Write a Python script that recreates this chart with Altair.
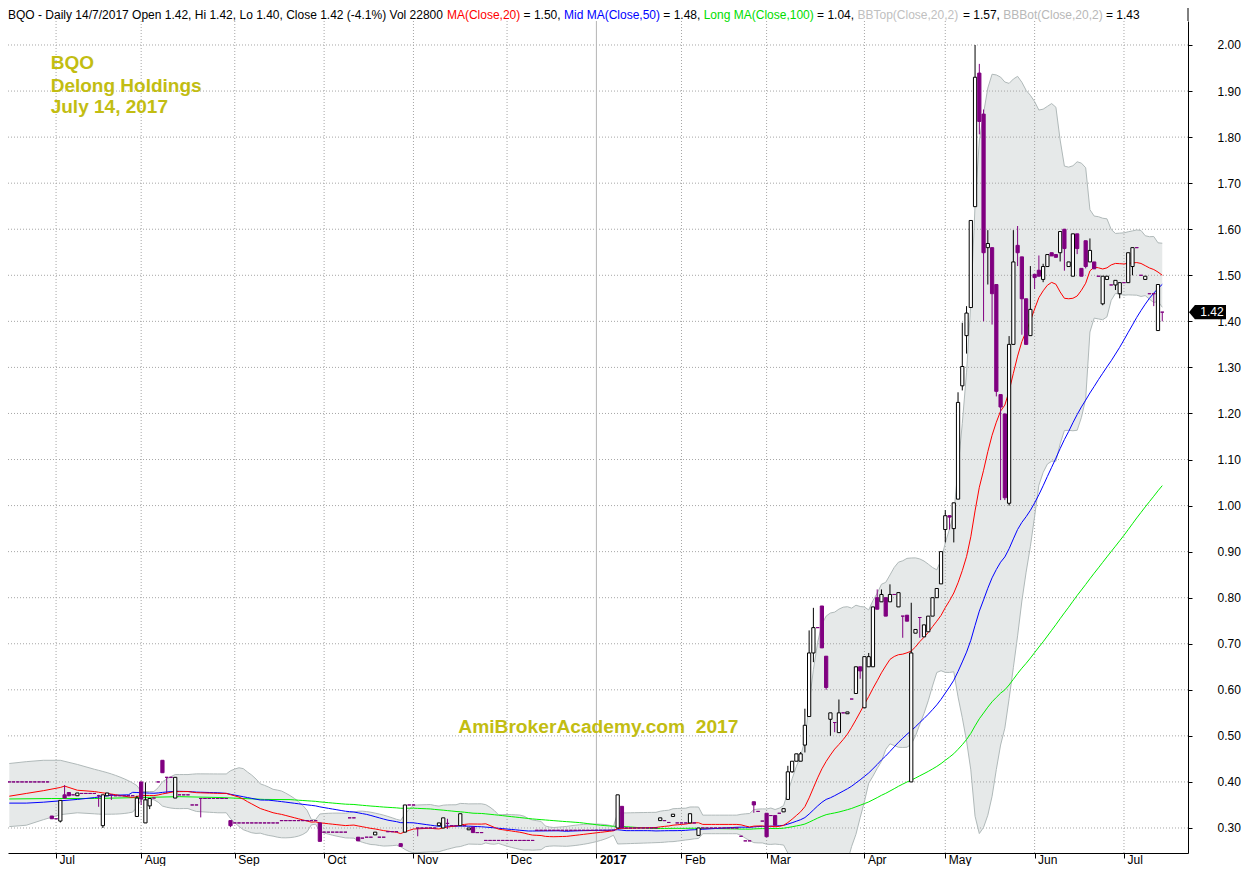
import altair as alt
import pandas as pd

FONT = "Liberation Sans"

# ---- daily candles, bar index 0..271 (mid-Jun 2016 .. 14 Jul 2017) ----
open_ = [
    0.400, 0.400, 0.400, 0.400, 0.400, 0.400, 0.400, 0.400, 0.400, 0.400,
    0.326, 0.320, 0.315, 0.372, 0.377, 0.372, 0.370, 0.375, 0.375, 0.375,
    0.375, 0.370, 0.305, 0.370, 0.372, 0.370, 0.370, 0.370, 0.370, 0.370,
    0.325, 0.400, 0.311, 0.348, 0.365, 0.400, 0.447, 0.410, 0.410, 0.365,
    0.372, 0.372, 0.372, 0.350, 0.350, 0.364, 0.364, 0.364, 0.364, 0.364,
    0.364, 0.364, 0.316, 0.311, 0.311, 0.311, 0.311, 0.311, 0.311, 0.311,
    0.311, 0.311, 0.311, 0.311, 0.316, 0.316, 0.316, 0.316, 0.316, 0.316,
    0.316, 0.316, 0.316, 0.311, 0.291, 0.291, 0.291, 0.291, 0.291, 0.291,
    0.322, 0.322, 0.280, 0.278, 0.280, 0.280, 0.285, 0.280, 0.280, 0.292,
    0.292, 0.292, 0.266, 0.291, 0.350, 0.350, 0.300, 0.300, 0.300, 0.300,
    0.300, 0.305, 0.300, 0.310, 0.305, 0.305, 0.305, 0.305, 0.296, 0.302,
    0.290, 0.290, 0.273, 0.273, 0.273, 0.273, 0.273, 0.273, 0.273, 0.273,
    0.273, 0.273, 0.273, 0.273, 0.295, 0.295, 0.295, 0.295, 0.295, 0.295,
    0.295, 0.295, 0.295, 0.295, 0.295, 0.295, 0.295, 0.295, 0.295, 0.295,
    0.295, 0.295, 0.295, 0.300, 0.347, 0.300, 0.300, 0.300, 0.300, 0.300,
    0.300, 0.300, 0.300, 0.316, 0.316, 0.312, 0.325, 0.311, 0.311, 0.311,
    0.311, 0.311, 0.284, 0.300, 0.300, 0.300, 0.300, 0.300, 0.300, 0.300,
    0.300, 0.300, 0.282, 0.272, 0.272, 0.357, 0.336, 0.315, 0.332, 0.327,
    0.327, 0.332, 0.335, 0.362, 0.422, 0.445, 0.445, 0.480, 0.542, 0.680,
    0.735, 0.782, 0.673, 0.536, 0.529, 0.507, 0.550, 0.548, 0.580, 0.592,
    0.650, 0.561, 0.650, 0.650, 0.800, 0.791, 0.800, 0.791, 0.807, 0.780,
    0.760, 0.762, 0.400, 0.723, 0.757, 0.715, 0.726, 0.760, 0.800, 0.830,
    0.948, 0.978, 0.950, 1.014, 1.260, 1.369, 1.430, 1.649, 1.939, 1.850,
    1.560, 1.560, 1.480, 1.241, 1.199, 1.005, 1.350, 1.565, 1.540, 1.449,
    1.369, 1.502, 1.511, 1.491, 1.519, 1.549, 1.545, 1.549, 1.600, 1.519,
    1.498, 1.590, 1.515, 1.575, 1.529, 1.529, 1.498, 1.438, 1.491, 1.479,
    1.479, 1.460, 1.484, 1.484, 1.519, 1.560, 1.500, 1.491, 1.460, 1.460,
    1.380, 1.420,
]
high = [
    0.400, 0.400, 0.400, 0.400, 0.400, 0.400, 0.400, 0.400, 0.400, 0.400,
    0.326, 0.320, 0.360, 0.393, 0.377, 0.372, 0.376, 0.375, 0.375, 0.375,
    0.375, 0.372, 0.372, 0.376, 0.372, 0.370, 0.370, 0.370, 0.370, 0.370,
    0.370, 0.400, 0.399, 0.364, 0.365, 0.400, 0.447, 0.410, 0.410, 0.410,
    0.372, 0.372, 0.372, 0.350, 0.350, 0.364, 0.364, 0.364, 0.364, 0.364,
    0.364, 0.364, 0.316, 0.311, 0.311, 0.311, 0.311, 0.311, 0.311, 0.311,
    0.311, 0.311, 0.311, 0.311, 0.316, 0.316, 0.316, 0.316, 0.316, 0.316,
    0.316, 0.316, 0.316, 0.311, 0.291, 0.291, 0.291, 0.291, 0.291, 0.291,
    0.322, 0.322, 0.280, 0.278, 0.280, 0.280, 0.291, 0.280, 0.280, 0.292,
    0.292, 0.292, 0.266, 0.350, 0.350, 0.350, 0.300, 0.300, 0.300, 0.300,
    0.300, 0.311, 0.322, 0.320, 0.305, 0.305, 0.331, 0.305, 0.300, 0.302,
    0.290, 0.290, 0.273, 0.273, 0.273, 0.273, 0.273, 0.273, 0.273, 0.273,
    0.273, 0.273, 0.273, 0.273, 0.295, 0.295, 0.295, 0.295, 0.295, 0.295,
    0.295, 0.295, 0.295, 0.295, 0.295, 0.295, 0.295, 0.295, 0.295, 0.295,
    0.295, 0.295, 0.295, 0.372, 0.347, 0.300, 0.300, 0.300, 0.300, 0.300,
    0.300, 0.300, 0.300, 0.322, 0.316, 0.312, 0.330, 0.311, 0.311, 0.311,
    0.331, 0.311, 0.300, 0.300, 0.300, 0.300, 0.300, 0.300, 0.300, 0.300,
    0.300, 0.300, 0.282, 0.272, 0.272, 0.357, 0.336, 0.315, 0.332, 0.327,
    0.327, 0.332, 0.342, 0.435, 0.445, 0.461, 0.465, 0.559, 0.729, 0.778,
    0.735, 0.782, 0.673, 0.550, 0.529, 0.579, 0.550, 0.552, 0.580, 0.650,
    0.650, 0.672, 0.680, 0.780, 0.818, 0.818, 0.800, 0.829, 0.807, 0.811,
    0.760, 0.762, 0.789, 0.731, 0.757, 0.741, 0.760, 0.800, 0.820, 0.900,
    0.990, 0.978, 1.006, 1.246, 1.397, 1.433, 1.619, 2.000, 1.959, 1.860,
    1.598, 1.560, 1.480, 1.241, 1.199, 1.368, 1.598, 1.607, 1.540, 1.449,
    1.520, 1.502, 1.543, 1.525, 1.545, 1.549, 1.545, 1.595, 1.600, 1.529,
    1.590, 1.590, 1.515, 1.575, 1.580, 1.529, 1.498, 1.498, 1.498, 1.479,
    1.489, 1.484, 1.484, 1.549, 1.560, 1.560, 1.500, 1.498, 1.460, 1.460,
    1.480, 1.420,
]
low = [
    0.400, 0.400, 0.400, 0.400, 0.400, 0.400, 0.400, 0.400, 0.400, 0.400,
    0.320, 0.320, 0.312, 0.365, 0.369, 0.372, 0.370, 0.375, 0.375, 0.375,
    0.375, 0.346, 0.300, 0.370, 0.361, 0.370, 0.370, 0.370, 0.370, 0.370,
    0.325, 0.350, 0.311, 0.341, 0.365, 0.400, 0.420, 0.375, 0.410, 0.365,
    0.372, 0.372, 0.372, 0.350, 0.350, 0.323, 0.364, 0.364, 0.364, 0.364,
    0.364, 0.364, 0.302, 0.311, 0.311, 0.311, 0.311, 0.311, 0.311, 0.311,
    0.311, 0.311, 0.311, 0.311, 0.316, 0.316, 0.316, 0.316, 0.316, 0.316,
    0.316, 0.316, 0.316, 0.271, 0.291, 0.291, 0.291, 0.291, 0.291, 0.291,
    0.322, 0.322, 0.272, 0.278, 0.280, 0.280, 0.285, 0.280, 0.280, 0.292,
    0.292, 0.292, 0.260, 0.291, 0.350, 0.350, 0.282, 0.300, 0.300, 0.300,
    0.300, 0.305, 0.300, 0.298, 0.305, 0.305, 0.305, 0.305, 0.296, 0.290,
    0.290, 0.290, 0.273, 0.273, 0.273, 0.273, 0.273, 0.273, 0.273, 0.273,
    0.273, 0.273, 0.273, 0.273, 0.295, 0.295, 0.295, 0.295, 0.295, 0.295,
    0.295, 0.295, 0.295, 0.295, 0.295, 0.295, 0.295, 0.295, 0.295, 0.295,
    0.295, 0.295, 0.295, 0.300, 0.300, 0.300, 0.300, 0.300, 0.300, 0.300,
    0.300, 0.300, 0.300, 0.316, 0.316, 0.312, 0.325, 0.311, 0.311, 0.311,
    0.311, 0.311, 0.284, 0.300, 0.300, 0.300, 0.300, 0.300, 0.300, 0.300,
    0.300, 0.300, 0.282, 0.272, 0.272, 0.333, 0.336, 0.315, 0.280, 0.327,
    0.306, 0.332, 0.335, 0.362, 0.420, 0.445, 0.445, 0.464, 0.542, 0.660,
    0.735, 0.691, 0.600, 0.500, 0.508, 0.507, 0.550, 0.548, 0.580, 0.592,
    0.624, 0.561, 0.650, 0.650, 0.775, 0.791, 0.760, 0.791, 0.807, 0.780,
    0.713, 0.749, 0.400, 0.723, 0.713, 0.715, 0.726, 0.760, 0.800, 0.830,
    0.920, 0.948, 0.920, 1.014, 1.250, 1.330, 1.430, 1.649, 1.806, 1.400,
    1.480, 1.393, 1.237, 1.012, 1.012, 1.000, 1.350, 1.520, 1.371, 1.350,
    1.369, 1.470, 1.498, 1.485, 1.519, 1.542, 1.539, 1.530, 1.510, 1.519,
    1.498, 1.546, 1.498, 1.515, 1.529, 1.514, 1.498, 1.435, 1.491, 1.479,
    1.468, 1.450, 1.484, 1.484, 1.500, 1.560, 1.500, 1.491, 1.460, 1.433,
    1.380, 1.400,
]
close = [
    0.400, 0.400, 0.400, 0.400, 0.400, 0.400, 0.400, 0.400, 0.400, 0.400,
    0.320, 0.320, 0.360, 0.365, 0.370, 0.372, 0.376, 0.375, 0.375, 0.375,
    0.375, 0.370, 0.372, 0.376, 0.372, 0.370, 0.370, 0.370, 0.370, 0.370,
    0.365, 0.363, 0.361, 0.364, 0.365, 0.400, 0.420, 0.410, 0.410, 0.410,
    0.372, 0.372, 0.372, 0.350, 0.350, 0.364, 0.364, 0.364, 0.364, 0.364,
    0.364, 0.364, 0.305, 0.311, 0.311, 0.311, 0.311, 0.311, 0.311, 0.311,
    0.311, 0.311, 0.311, 0.311, 0.316, 0.316, 0.316, 0.316, 0.316, 0.316,
    0.316, 0.316, 0.316, 0.271, 0.291, 0.291, 0.291, 0.291, 0.291, 0.291,
    0.322, 0.322, 0.272, 0.278, 0.280, 0.280, 0.291, 0.280, 0.280, 0.292,
    0.292, 0.292, 0.260, 0.350, 0.350, 0.350, 0.300, 0.300, 0.300, 0.300,
    0.300, 0.311, 0.322, 0.310, 0.305, 0.305, 0.331, 0.305, 0.300, 0.290,
    0.290, 0.290, 0.273, 0.273, 0.273, 0.273, 0.273, 0.273, 0.273, 0.273,
    0.273, 0.273, 0.273, 0.273, 0.295, 0.295, 0.295, 0.295, 0.295, 0.295,
    0.295, 0.295, 0.295, 0.295, 0.295, 0.295, 0.295, 0.295, 0.295, 0.295,
    0.295, 0.295, 0.295, 0.372, 0.300, 0.300, 0.300, 0.300, 0.300, 0.300,
    0.300, 0.300, 0.300, 0.322, 0.316, 0.312, 0.330, 0.311, 0.311, 0.311,
    0.331, 0.311, 0.300, 0.300, 0.300, 0.300, 0.300, 0.300, 0.300, 0.300,
    0.300, 0.300, 0.282, 0.272, 0.272, 0.350, 0.336, 0.315, 0.281, 0.327,
    0.306, 0.332, 0.342, 0.422, 0.445, 0.461, 0.461, 0.523, 0.680, 0.735,
    0.735, 0.691, 0.605, 0.550, 0.529, 0.550, 0.550, 0.552, 0.580, 0.650,
    0.641, 0.672, 0.672, 0.780, 0.775, 0.807, 0.760, 0.807, 0.807, 0.811,
    0.760, 0.749, 0.680, 0.731, 0.757, 0.741, 0.760, 0.800, 0.820, 0.900,
    0.978, 0.975, 1.006, 1.224, 1.302, 1.418, 1.619, 1.930, 1.834, 1.549,
    1.569, 1.460, 1.248, 1.214, 1.017, 1.350, 1.529, 1.549, 1.449, 1.350,
    1.426, 1.495, 1.498, 1.519, 1.545, 1.542, 1.539, 1.595, 1.558, 1.529,
    1.590, 1.558, 1.498, 1.519, 1.554, 1.514, 1.498, 1.498, 1.498, 1.479,
    1.489, 1.484, 1.484, 1.549, 1.560, 1.560, 1.500, 1.498, 1.460, 1.460,
    1.480, 1.420,
]

# indicator values for the leftmost bars, where the
# averaging windows reach back before the first visible bar
bb_head_bars = [0, 4, 8, 12, 16]
bb_top_head = [0.440, 0.444, 0.447, 0.447, 0.438]
bb_bot_head = [0.303, 0.306, 0.318, 0.329, 0.333]
ma20_head_bars = [0, 4, 8, 12, 13, 16]
ma20_head = [0.369, 0.375, 0.381, 0.388, 0.391, 0.382]
ma50_head_bars = [0, 4, 8, 12, 16, 20, 24, 28]
ma50_head = [0.354, 0.354, 0.356, 0.359, 0.362, 0.366, 0.371, 0.372]
ma100_head_bars = [0, 10, 20, 30, 40, 50, 60]
ma100_head = [0.363, 0.364, 0.364, 0.366, 0.368, 0.366, 0.362]

month_idx = [11, 31, 53, 74, 95, 117, 138, 158, 178, 201, 220, 241, 262]
month_lbl = ["Jul", "Aug", "Sep", "Oct", "Nov", "Dec", "2017", "Feb", "Mar",
             "Apr", "May", "Jun", "Jul"]
price_ticks = [0.30, 0.40, 0.50, 0.60, 0.70, 0.80, 0.90, 1.00, 1.10, 1.20,
               1.30, 1.40, 1.50, 1.60, 1.70, 1.80, 1.90, 2.00]
last_price = [1.42]

n = len(close)
assert len(open_) == n and len(high) == n and len(low) == n
df = pd.DataFrame({"i": list(range(n)), "o": open_, "h": high, "l": low, "c": close})


def head_col(bars, vals):
    m = dict(zip(bars, vals))
    return [m.get(k) for k in range(n)]


df["bbt_h"] = head_col(bb_head_bars, bb_top_head)
df["bbb_h"] = head_col(bb_head_bars, bb_bot_head)
df["m20_h"] = head_col(ma20_head_bars, ma20_head)
df["m50_h"] = head_col(ma50_head_bars, ma50_head)
df["m100_h"] = head_col(ma100_head_bars, ma100_head)

# plot area: page y 21 .. 853, x 8 .. 1188 (whole svg 1233 x 858)
W, H = 1180, 832
X = alt.Scale(domain=[-0.3, 277.05], nice=False, zero=False)
Y = alt.Scale(domain=[0.2457, 2.0521], nice=False, zero=False)

year_idx = month_idx[month_lbl.index("2017")]
lbl_expr = ("[" + ",".join("'%s'" % m for m in month_lbl) + "][indexof(["
            + ",".join(str(v) for v in month_idx) + "], datum.value)]")

xaxis = alt.Axis(values=month_idx, labelExpr=lbl_expr, grid=False, title=None,
                 tickSize=5, tickColor="black", domainColor="black",
                 labelAlign="left", labelOffset=3, labelPadding=-4,
                 labelBaseline="top", labelFont=FONT, labelFontSize=12,
                 labelColor="black", labelOverlap=False, labelFlush=False,
                 labelFontWeight={"expr": "datum.value == %d ? 'bold' : 'normal'" % year_idx})
yaxis = alt.Axis(orient="right", values=price_ticks, format=".2f", grid=False,
                 title=None, tickSize=4, tickColor="black", domainColor="black",
                 labelPadding=25, labelAlign="left", labelBaseline="middle",
                 labelFont=FONT, labelFontSize=12, labelColor="black",
                 labelOverlap=False, labelFlush=False)


def xe(f):
    return alt.X(f, type="quantitative", scale=X, axis=xaxis)


def ye(f):
    return alt.Y(f, type="quantitative", scale=Y, axis=yaxis)


srt = [alt.SortField("i", order="ascending")]
base = (
    alt.Chart(df)
    .transform_window(ma20="mean(c)", sd20="stdevp(c)", frame=[-19, 0], sort=srt)
    .transform_window(ma50="mean(c)", frame=[-49, 0], sort=srt)
    .transform_window(ma100="mean(c)", frame=[-99, 0], sort=srt)
    .transform_calculate(
        bbt="datum.i < 20 ? datum.bbt_h : datum.ma20 + 2 * datum.sd20",
        bbb="datum.i < 20 ? datum.bbb_h : datum.ma20 - 2 * datum.sd20",
        m20="datum.i < 20 ? datum.m20_h : datum.ma20",
        m50="datum.i < 29 ? datum.m50_h : datum.ma50",
        m100="datum.i < 66 ? datum.m100_h : datum.ma100",
        xa="datum.i - 0.38",
        xb="datum.i + 0.38",
    )
)


def valid(f):
    return base.transform_filter("isValid(datum.%s)" % f)


band = valid("bbt").mark_area(color="#E6E9E9", clip=True).encode(x=xe("i"), y=ye("bbb"), y2="bbt:Q")
band_top = valid("bbt").mark_line(color="#B0B9B9", strokeWidth=1, clip=True).encode(x=xe("i"), y=ye("bbt"))
band_bot = valid("bbb").mark_line(color="#B0B9B9", strokeWidth=1, clip=True).encode(x=xe("i"), y=ye("bbb"))

grid_x = (alt.Chart(pd.DataFrame({"i": month_idx}))
          .transform_filter("datum.i != %d" % year_idx)
          .mark_rule(color="#A6A6A6", strokeDash=[1, 2], strokeWidth=1)
          .encode(x=xe("i")))
grid_year = (alt.Chart(pd.DataFrame({"i": [year_idx]}))
             .mark_rule(color="#B4B4B4", strokeWidth=1).encode(x=xe("i")))
grid_y = (alt.Chart(pd.DataFrame({"p": price_ticks}))
          .mark_rule(color="#A6A6A6", strokeDash=[1, 2], strokeWidth=1)
          .encode(y=ye("p")))

ma100 = valid("m100").mark_line(color="#00EE00", strokeWidth=1, clip=True).encode(x=xe("i"), y=ye("m100"))
ma50 = valid("m50").mark_line(color="#0000FF", strokeWidth=1, clip=True).encode(x=xe("i"), y=ye("m50"))
ma20 = valid("m20").mark_line(color="#FF0000", strokeWidth=1, clip=True).encode(x=xe("i"), y=ye("m20"))

up = "datum.c > datum.o"
wicks = base.mark_rule(strokeWidth=1, clip=True).encode(
    x=xe("i"), y=ye("l"), y2="h:Q",
    color=alt.condition(up, alt.value("black"), alt.value("#800080")))
bodies = base.mark_rect(strokeWidth=1, clip=True).encode(
    x=xe("xa"), x2="xb:Q", y=ye("o"), y2="c:Q",
    fill=alt.condition(up, alt.value("white"), alt.value("#800080")),
    stroke=alt.condition(up, alt.value("black"), alt.value("#800080")))

one = pd.DataFrame({"k": [0]})


def txt(s, x, y, color, size=12, weight="normal"):
    return alt.Chart(one).mark_text(
        text=s, align="left", baseline="alphabetic", font=FONT,
        fontSize=size, fontWeight=weight, color=color,
    ).encode(x=alt.value(x), y=alt.value(y))


HY = -2
header = [
    txt("BQO - Daily 14/7/2017 Open 1.42, Hi 1.42, Lo 1.40, Close 1.42 (-4.1%) Vol 22800", 0, HY, "black"),
    txt("MA(Close,20)", 438.9, HY, "#FF0000"),
    txt("= 1.50,", 515.6, HY, "black"),
    txt("Mid MA(Close,50)", 556.0, HY, "#0000FF"),
    txt("= 1.48,", 655.3, HY, "black"),
    txt("Long MA(Close,100)", 695.7, HY, "#00DD00"),
    txt("= 1.04,", 809.1, HY, "black"),
    txt("BBTop(Close,20,2)", 849.5, HY, "#C0C0C0"),
    txt("= 1.57,", 954.9, HY, "black"),
    txt("BBBot(Close,20,2)", 995.3, HY, "#B8B8B8"),
    txt("= 1.43", 1098.0, HY, "black"),
]
gold = "#C2BD12"
notes = [
    txt("BQO", 42.7, 48.3, gold, 19, "bold"),
    txt("Delong Holdings", 42.7, 70.7, gold, 19, "bold"),
    txt("July 14, 2017", 42.7, 92.3, gold, 19, "bold"),
    txt("AmiBrokerAcademy.com\u00a0 2017", 450.3, 712.3, gold, 19.2, "bold"),
]

axis_ext = alt.Chart(one).mark_rule(color="black", strokeWidth=1).encode(
    x=alt.value(W), y=alt.value(-13), y2=alt.value(0))

px = pd.DataFrame({"p": last_price})
tag = alt.Chart(px).mark_point(
    shape="M -1 0 L -0.68 -0.38 L 1 -0.38 L 1 0.38 L -0.68 0.38 Z",
    filled=True, color="black", size=1369, opacity=1, strokeWidth=0,
).encode(x=alt.value(1199.5), y=ye("p"))
tag_txt = alt.Chart(px).mark_text(
    color="white", align="center", baseline="middle", font=FONT, fontSize=12,
).encode(x=alt.value(1204), y=ye("p"), text=alt.Text("p:Q", format=".2f"))

chart = alt.layer(
    band, grid_y, grid_x, grid_year, band_top, band_bot,
    ma100, ma50, ma20, wicks, bodies,
    *header, *notes, axis_ext, tag, tag_txt,
).properties(
    width=W, height=H,
    autosize=alt.AutoSizeParams(type="none"),
    padding={"left": 0, "top": 13, "right": 53, "bottom": 13},
).configure_view(stroke=None)

chart.save("out.html", embed_options={"renderer": "svg", "actions": False})
